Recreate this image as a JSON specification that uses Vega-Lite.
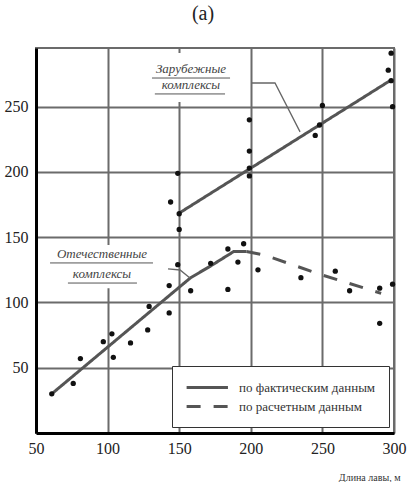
{
  "$schema": "https://vega.github.io/schema/vega-lite/v6.json",
  "autosize": {"type": "none"},
  "padding": {"left": 36, "top": 48, "right": 24, "bottom": 49},
  "width": 358,
  "height": 385,
  "background": "white",
  "title": {"text": "(a)", "font": "Liberation Serif", "fontSize": 20, "fontWeight": "normal", "color": "#222", "baseline": "bottom", "offset": 4, "dx": -12, "frame": "group"},
  "config": {
    "view": {"stroke": "#6b6b6b", "strokeWidth": 2},
    "axis": {"gridColor": "#6b6b6b", "gridWidth": 2, "gridOpacity": 1, "ticks": false, "domainColor": "#000", "domainWidth": 3, "labelFont": "Liberation Serif", "labelFontSize": 16, "labelColor": "#222"},
    "legend": {"orient": "none", "legendX": 136, "legendY": 318, "fillColor": "white", "strokeColor": "#333", "padding": 13, "labelFont": "Liberation Serif", "labelFontSize": 13, "labelColor": "#333", "symbolType": "M-1,0H5", "symbolSize": 190, "symbolStrokeWidth": 3, "symbolStrokeColor": "#555", "labelOffset": 37, "rowPadding": 3, "cornerRadius": 0}
  },
  "datasets": {
    "points": [
      {"x": 61, "y": 30}, {"x": 76, "y": 38}, {"x": 81, "y": 57}, {"x": 97, "y": 70}, {"x": 103, "y": 76},
      {"x": 104, "y": 58}, {"x": 116, "y": 69}, {"x": 128, "y": 79}, {"x": 129, "y": 97}, {"x": 143, "y": 92},
      {"x": 143, "y": 113}, {"x": 149, "y": 129}, {"x": 149, "y": 199}, {"x": 144, "y": 177}, {"x": 150, "y": 168},
      {"x": 150, "y": 156}, {"x": 158, "y": 109}, {"x": 172, "y": 130}, {"x": 184, "y": 141}, {"x": 184, "y": 110},
      {"x": 191, "y": 131}, {"x": 195, "y": 145}, {"x": 205, "y": 125}, {"x": 235, "y": 119}, {"x": 259, "y": 124},
      {"x": 269, "y": 109}, {"x": 290, "y": 111}, {"x": 299, "y": 114}, {"x": 290, "y": 84}, {"x": 199, "y": 240},
      {"x": 199, "y": 216}, {"x": 199, "y": 203}, {"x": 199, "y": 197}, {"x": 245, "y": 228}, {"x": 248, "y": 236},
      {"x": 250, "y": 251}, {"x": 298, "y": 291}, {"x": 296, "y": 278}, {"x": 298, "y": 270}, {"x": 299, "y": 250}
    ],
    "lines": [
      {"seg": "foreign", "type": "по фактическим данным", "x": 150, "y": 168.5},
      {"seg": "foreign", "type": "по фактическим данным", "x": 298, "y": 270.5},
      {"seg": "domestic", "type": "по фактическим данным", "x": 61, "y": 30},
      {"seg": "domestic", "type": "по фактическим данным", "x": 158, "y": 119},
      {"seg": "domestic", "type": "по фактическим данным", "x": 172, "y": 128},
      {"seg": "domestic", "type": "по фактическим данным", "x": 188, "y": 139},
      {"seg": "domestic", "type": "по фактическим данным", "x": 197, "y": 139},
      {"seg": "calc", "type": "по расчетным данным", "x": 197, "y": 139},
      {"seg": "calc", "type": "по расчетным данным", "x": 209, "y": 136.5},
      {"seg": "calc", "type": "по расчетным данным", "x": 250, "y": 121},
      {"seg": "calc", "type": "по расчетным данным", "x": 291, "y": 107}
    ],
    "leaders": [
      {"id": "f", "x": 200.8, "y": 268.2}, {"id": "f", "x": 216.9, "y": 268.2}, {"id": "f", "x": 234.4, "y": 230.7},
      {"id": "d", "x": 142.2, "y": 125.7}, {"id": "d", "x": 150.6, "y": 124.9}, {"id": "d", "x": 157.5, "y": 118.8}
    ],
    "boxes": [
      {"x": 128.2, "x2": 188.3, "y": 291.2, "y2": 253.6},
      {"x": 58.4, "x2": 135.2, "y": 144, "y2": 111}
    ],
    "labels": [
      {"x": 158.2, "y": 276.6, "text": "Зарубежные"},
      {"x": 158.2, "y": 264.4, "text": "комплексы"},
      {"x": 96.1, "y": 134.9, "text": "Отечественные"},
      {"x": 96.1, "y": 119.5, "text": "комплексы"}
    ],
    "underlines": [
      {"x": 131, "x2": 185.5, "y": 272},
      {"x": 133, "x2": 182, "y": 259.8},
      {"x": 59.8, "x2": 131.7, "y": 130.3},
      {"x": 72.3, "x2": 120.5, "y": 114.9}
    ]
  },
  "encoding": {
    "x": {"field": "x", "type": "quantitative", "scale": {"domain": [50, 300], "nice": false, "zero": false},
      "axis": {"values": [50, 100, 150, 200, 250, 300], "labelPadding": 7, "labelFlush": false, "title": "Длина лавы, м", "titleFont": "Liberation Serif", "titleFontSize": 10, "titleFontWeight": "normal", "titleColor": "#333", "titleAnchor": "end", "titleAlign": "right", "titleX": 364, "titleY": 44, "titleBaseline": "middle"}},
    "y": {"field": "y", "type": "quantitative", "scale": {"domain": [0, 295], "nice": false},
      "axis": {"values": [50, 100, 150, 200, 250], "labelPadding": 8, "title": null}}
  },
  "layer": [
    {"data": {"name": "boxes"}, "mark": {"type": "rect", "fill": "white"},
      "encoding": {"x2": {"field": "x2"}, "y2": {"field": "y2"}}},
    {"data": {"name": "lines"}, "mark": {"type": "line", "color": "#555", "strokeWidth": 3},
      "encoding": {"detail": {"field": "seg"},
        "strokeDash": {"field": "type", "type": "nominal", "scale": {"domain": ["по фактическим данным", "по расчетным данным"], "range": [[1, 0], [14, 13]]}, "legend": {"title": null}}}},
    {"data": {"name": "leaders"}, "mark": {"type": "line", "color": "#666", "strokeWidth": 1.3},
      "encoding": {"detail": {"field": "id"}}},
    {"data": {"name": "points"}, "mark": {"type": "point", "filled": true, "color": "#111", "size": 28, "opacity": 1}},
    {"data": {"name": "labels"}, "mark": {"type": "text", "font": "Liberation Serif", "fontStyle": "italic", "fontSize": 13, "color": "#444", "baseline": "middle", "dy": -3},
      "encoding": {"text": {"field": "text"}}},
    {"data": {"name": "underlines"}, "mark": {"type": "rule", "color": "#555", "strokeWidth": 1},
      "encoding": {"x2": {"field": "x2"}}}
  ]
}
